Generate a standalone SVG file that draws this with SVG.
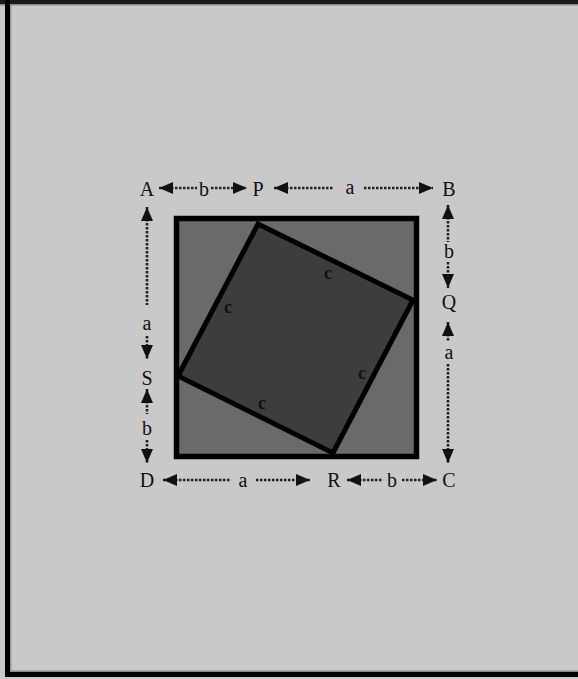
<svg xmlns="http://www.w3.org/2000/svg" width="578" height="679" viewBox="0 0 578 679">
<defs>
<style>
.lbl{font-family:"Liberation Serif","Times New Roman",serif;font-size:20px;fill:#111;text-anchor:middle}
.c{font-family:"Liberation Serif","Times New Roman",serif;font-size:18px;font-weight:bold;fill:#111;text-anchor:middle}
.dim{stroke:#222;stroke-width:2.6;stroke-dasharray:2.5 1.5;fill:none}
</style>
<marker id="ah" markerUnits="userSpaceOnUse" markerWidth="14" markerHeight="12" refX="14" refY="6" orient="auto-start-reverse" viewBox="0 0 14 12">
<path d="M0,0 L14,6 L0,12 z" fill="#111"/>
</marker>
</defs>
<rect x="0" y="0" width="578" height="679" fill="#c9c9c9"/>
<g id="frame">
<rect x="0" y="0" width="578" height="4" fill="#1a1a1a"/>
<rect x="0" y="4" width="578" height="1.5" fill="#8a8a8a"/>
<rect x="5" y="0" width="5" height="677" fill="#000"/>
<rect x="10" y="5" width="1.5" height="667" fill="#9a9a9a"/>
<rect x="5" y="672" width="573" height="5" fill="#000"/>
<rect x="11" y="670.5" width="567" height="1.5" fill="#8a8a8a"/>
</g>
<g id="outer-square">
<rect x="176.5" y="218.5" width="240" height="238" fill="#6a6a6a" stroke="#000" stroke-width="5.5"/>
</g>
<g id="inner-square">
<polygon points="258,224 413,300 333,453 178,376" fill="#3d3d3d" stroke="#000" stroke-width="5" stroke-linejoin="miter"/>
<text class="c" x="328" y="279">c</text>
<text class="c" x="228" y="313">c</text>
<text class="c" x="362" y="379">c</text>
<text class="c" x="262" y="409">c</text>
</g>
<g id="connectors">
<line class="dim" x1="159" y1="188" x2="197" y2="188" marker-start="url(#ah)"/>
<line class="dim" x1="211" y1="188" x2="247" y2="188" marker-end="url(#ah)"/>
<line class="dim" x1="274" y1="188" x2="334" y2="188" marker-start="url(#ah)"/>
<line class="dim" x1="364" y1="188" x2="433" y2="188" marker-end="url(#ah)"/>
<line class="dim" x1="163" y1="480" x2="231" y2="480" marker-start="url(#ah)"/>
<line class="dim" x1="256" y1="480" x2="310" y2="480" marker-end="url(#ah)"/>
<line class="dim" x1="347" y1="480" x2="382" y2="480" marker-start="url(#ah)"/>
<line class="dim" x1="402" y1="480" x2="437" y2="480" marker-end="url(#ah)"/>
<line class="dim" x1="147" y1="207" x2="147" y2="305" marker-start="url(#ah)"/>
<line class="dim" x1="147" y1="336" x2="147" y2="359" marker-end="url(#ah)"/>
<line class="dim" x1="147" y1="389" x2="147" y2="414" marker-start="url(#ah)"/>
<line class="dim" x1="147" y1="440" x2="147" y2="463" marker-end="url(#ah)"/>
<line class="dim" x1="448" y1="205" x2="448" y2="242" marker-start="url(#ah)"/>
<line class="dim" x1="448" y1="262" x2="448" y2="288" marker-end="url(#ah)"/>
<line class="dim" x1="448" y1="322" x2="448" y2="342" marker-start="url(#ah)"/>
<line class="dim" x1="448" y1="364" x2="448" y2="463" marker-end="url(#ah)"/>
</g>
<g id="label-A"><text class="lbl" x="147" y="196">A</text></g>
<g id="label-P"><text class="lbl" x="258" y="196">P</text></g>
<g id="label-B"><text class="lbl" x="449" y="196">B</text></g>
<g id="label-Q"><text class="lbl" x="449" y="309">Q</text></g>
<g id="label-C"><text class="lbl" x="449" y="487">C</text></g>
<g id="label-R"><text class="lbl" x="334" y="487">R</text></g>
<g id="label-D"><text class="lbl" x="147" y="487">D</text></g>
<g id="label-S"><text class="lbl" x="147" y="385">S</text></g>
<g id="dim-labels">
<text class="lbl" x="204" y="196">b</text>
<text class="lbl" x="350" y="194">a</text>
<text class="lbl" x="243" y="487">a</text>
<text class="lbl" x="392" y="487">b</text>
<text class="lbl" x="147" y="330">a</text>
<text class="lbl" x="147" y="435">b</text>
<text class="lbl" x="449" y="258">b</text>
<text class="lbl" x="449" y="359">a</text>
</g>
</svg>
